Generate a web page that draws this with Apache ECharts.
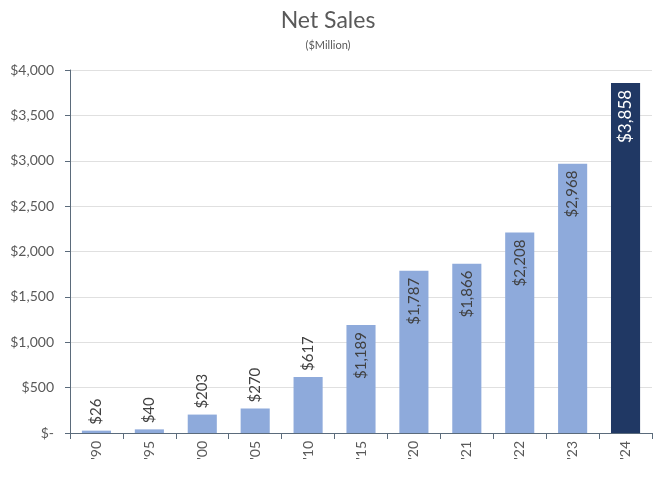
<!DOCTYPE html>
<html>
<head>
<meta charset="utf-8">
<script src="https://cdn.jsdelivr.net/npm/echarts@6/dist/echarts.min.js"></script>
<style>
  html, body { margin: 0; padding: 0; background: #fff; }
  #chart { width: 656px; height: 484px; }
</style>
</head>
<body>
<div id="chart"></div>
<script>
'use strict'
var years = ["'90", "'95", "'00", "'05", "'10", "'15", "'20", "'21", "'22", "'23", "'24"];
var netSales = [26, 40, 203, 270, 617, 1189, 1787, 1866, 2208, 2968, 3858];
var yTicks = [0, 500, 1000, 1500, 2000, 2500, 3000, 3500, 4000];

var lightBlue = '#8eaadb';
var darkBlue = '#203864';
var textGrey = '#595959';

function money(v) {
  if (v === 0) return '$-';
  return '$' + String(v).replace(/(\d)(?=(\d{3})+$)/g, '$1,');
}

var barData = netSales.map(function (v, i) {
  var last = i === netSales.length - 1;
  var outside = v < 1000;
  return {
    value: v,
    itemStyle: { color: last ? darkBlue : lightBlue },
    label: outside ? {
      position: 'top', rotate: 90, align: 'left', verticalAlign: 'middle',
      distance: 6, color: '#404040'
    } : {
      position: 'insideTop', rotate: 90, align: 'right', verticalAlign: 'middle',
      distance: 7, color: last ? '#ffffff' : '#404040', fontSize: last ? 17 : 15
    }
  };
});

var chart = echarts.init(document.getElementById('chart'));
chart.setOption({
  animation: false,
  title: {
    text: 'Net Sales',
    subtext: '($Million)',
    left: 'center',
    top: 4,
    itemGap: 8,
    textStyle: { fontFamily: 'Lato', fontSize: 23, fontWeight: 'normal', color: textGrey },
    subtextStyle: { fontFamily: 'Lato', fontSize: 11, color: textGrey }
  },
  grid: { left: 70, right: 4, top: 70, bottom: 51 },
  xAxis: {
    type: 'category',
    data: years,
    axisLine: { lineStyle: { color: '#5b6b7b', width: 1 } },
    axisTick: { show: true, length: 6, lineStyle: { color: '#5b6b7b' } },
    axisLabel: { rotate: 90, margin: 8, fontFamily: 'Lato', fontSize: 14, color: textGrey }
  },
  yAxis: {
    type: 'value',
    min: yTicks[0],
    max: yTicks[yTicks.length - 1],
    interval: yTicks[1] - yTicks[0],
    axisLine: { show: true, lineStyle: { color: '#5b6b7b', width: 1 } },
    axisTick: { show: true, length: 5, lineStyle: { color: '#5b6b7b' } },
    splitLine: { lineStyle: { color: '#e0e0e0' } },
    axisLabel: { margin: 16, fontFamily: 'Lato', fontSize: 14, color: textGrey, formatter: money }
  },
  series: [{
    type: 'bar',
    barWidth: '55%',
    data: barData,
    label: {
      show: true,
      fontFamily: 'Lato',
      fontSize: 15,
      formatter: function (p) { return money(p.value); }
    }
  }]
});
</script>
</body>
</html>
